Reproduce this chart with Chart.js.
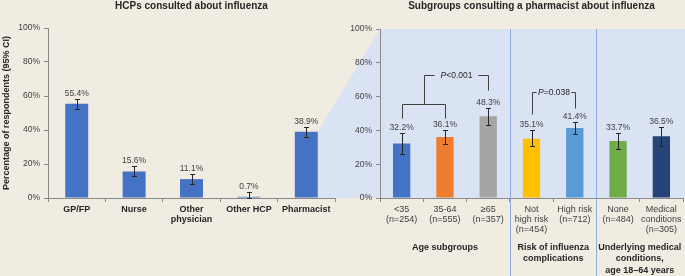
<!DOCTYPE html>
<html>
<head>
<meta charset="utf-8">
<script src="https://cdn.jsdelivr.net/npm/chart.js@4.4.1/dist/chart.umd.min.js"></script>
<style>
  html, body { margin: 0; padding: 0; background: #f1ece2; }
  #wrap { position: relative; width: 685px; height: 276px; overflow: hidden; }
  #wrap canvas { position: absolute; left: 0; top: 0; }
</style>
</head>
<body>
<div id="wrap">
  <canvas id="subgroupChart" width="685" height="276"></canvas>
  <canvas id="hcpChart" width="685" height="276"></canvas>
</div>
<script>
// Left panel - HCPs consulted about influenza
const hcpLabels = ['GP/FP', 'Nurse', ['Other', 'physician'], 'Other HCP', 'Pharmacist'];
const hcpValues = [55.4, 15.6, 11.1, 0.7, 38.9];
const hcpLower = [52.4, 12.8, 8.1, 0, 35.8];
const hcpUpper = [58.3, 18.7, 14.2, 3.7, 42.0];

// Right panel - subgroups consulting a pharmacist
const subLabels = [['<35', '(n=254)'], ['35-64', '(n=555)'], ['≥65', '(n=357)'],
  ['Not', 'high risk', '(n=454)'], ['High risk', '(n=712)'],
  ['None', '(n=484)'], ['Medical', 'conditions', '(n=305)']];
const subValues = [32.2, 36.1, 48.3, 35.1, 41.4, 33.7, 36.5];
const subLower = [26.3, 32.2, 42.9, 30.6, 37.6, 29.2, 31.0];
const subUpper = [38.6, 40.4, 53.4, 40.0, 45.1, 38.2, 42.2];
const subColors = ['#4472c4', '#ed7d31', '#a5a5a5', '#ffc000', '#5b9bd5', '#70ad47', '#264478'];

// Subgroup headings under the axis (first / last category of each group)
const groupNames = [['Age subgroups'], ['Risk of influenza', 'complications'], ['Underlying medical', 'conditions,', 'age 18–64 years']];
const groupFirst = [0, 3, 5];
const groupLast = [2, 4, 6];

// Significance brackets, heights in % of respondents
const ageLegs = [0, 1];
const ageLevels = [47.5, 55.5, 73, 64];   // leg base, join, top, right leg base
const ageRight = 2;
const riskLegs = [3, 4];
const riskLevels = [49.5, 53.5, 63];      // left base, right base, top

const FONT = '"Liberation Sans", Arial, sans-serif';
const axisColor = '#8a8a8a';
Chart.defaults.font.family = FONT;

function errorBarPlugin(lower, upper) {
    return {
        id: 'errorBars',
        afterDatasetsDraw(chart) {
            const ctx = chart.ctx;
            const yScale = chart.scales.y;
            const bars = chart.getDatasetMeta(0).data;
            const values = chart.data.datasets[0].data;
            ctx.save();
            ctx.lineWidth = 1;
            bars.forEach((bar, i) => {
                const x = Math.round(bar.x) + 0.5;
                const top = Math.round(yScale.getPixelForValue(upper[i])) + 0.5;
                const bot = Math.round(yScale.getPixelForValue(lower[i])) + 0.5;
                ctx.strokeStyle = '#262626';
                ctx.beginPath();
                ctx.moveTo(x, top); ctx.lineTo(x, bot);
                ctx.moveTo(x - 2.5, top); ctx.lineTo(x + 2.5, top);
                ctx.moveTo(x - 2.5, bot); ctx.lineTo(x + 2.5, bot);
                ctx.stroke();
                ctx.fillStyle = '#404040';
                ctx.font = '8.5px ' + FONT;
                ctx.textAlign = 'center';
                ctx.textBaseline = 'bottom';
                ctx.fillText(values[i].toFixed(1) + '%', bar.x, top - 1.5);
            });
            ctx.restore();
        }
    };
}

function panelTitlePlugin(text) {
    return {
        id: 'panelTitle',
        afterDraw(chart) {
            const { ctx, chartArea } = chart;
            ctx.save();
            ctx.font = 'bold 10px ' + FONT;
            ctx.fillStyle = '#262626';
            ctx.textAlign = 'center';
            ctx.textBaseline = 'middle';
            ctx.fillText(text, (chartArea.left + chartArea.right) / 2, 6.5);
            ctx.restore();
        }
    };
}

function axisOptions(tickFont, yWidth, extraY) {
    return {
        x: {
            grid: { drawOnChartArea: false, tickLength: 4, color: axisColor },
            border: { color: axisColor },
            ticks: { color: tickFont.weight ? '#262626' : '#404040', font: tickFont, padding: 2, maxRotation: 0, autoSkip: false },
            afterFit(s) { s.height = 78; }
        },
        y: Object.assign({
            min: 0,
            max: 100,
            grid: { drawOnChartArea: false, tickLength: 4, color: axisColor },
            border: { color: axisColor },
            ticks: { stepSize: 20, color: '#404040', font: { size: 8.5 }, padding: 4, callback: v => v + '%' },
            afterFit(s) { s.width = yWidth; }
        }, extraY || {})
    };
}

const hcpChart = new Chart(document.getElementById('hcpChart'), {
    type: 'bar',
    data: {
        labels: hcpLabels,
        datasets: [{ data: hcpValues, backgroundColor: '#4472c4', categoryPercentage: 1, barPercentage: 0.4 }]
    },
    options: {
        responsive: false,
        animation: false,
        events: [],
        layout: { padding: { top: 28, right: 350, left: 0, bottom: 0 } },
        plugins: { legend: { display: false }, tooltip: { enabled: false } },
        scales: axisOptions({ size: 9, weight: 'bold', lineHeight: 1.15 }, 48, {
            title: {
                display: true,
                text: 'Percentage of respondents (95% CI)',
                color: '#262626',
                font: { size: 9, weight: 'bold' },
                padding: { top: 1, bottom: 0 }
            }
        })
    },
    plugins: [errorBarPlugin(hcpLower, hcpUpper), panelTitlePlugin('HCPs consulted about influenza')]
});

// blue panel plus the wedge coming out of the pharmacist bar
const panelBackground = {
    id: 'panelBackground',
    beforeDraw(chart) {
        const { ctx, chartArea } = chart;
        const ph = hcpChart.getDatasetMeta(0).data[hcpValues.length - 1];
        const barRight = ph.x + ph.width / 2;
        ctx.save();
        ctx.fillStyle = '#dae3f3';
        ctx.beginPath();
        ctx.moveTo(barRight, ph.y);
        ctx.lineTo(chartArea.left, chartArea.top);
        ctx.lineTo(chart.width, chartArea.top);
        ctx.lineTo(chart.width, chartArea.bottom);
        ctx.lineTo(barRight, hcpChart.chartArea.bottom);
        ctx.closePath();
        ctx.fill();
        ctx.restore();
    },
    afterDraw(chart) {
        const { ctx, chartArea } = chart;
        const x = chart.scales.x;
        ctx.save();
        // separators between subgroup blocks
        ctx.strokeStyle = '#8eaadb';
        ctx.lineWidth = 1;
        for (let g = 0; g < groupFirst.length - 1; g++) {
            const sx = Math.round((x.getPixelForValue(groupLast[g]) + x.getPixelForValue(groupFirst[g + 1])) / 2) + 0.5;
            ctx.beginPath();
            ctx.moveTo(sx, chartArea.top);
            ctx.lineTo(sx, chart.height);
            ctx.stroke();
        }
        // subgroup headings
        ctx.font = 'bold 9px ' + FONT;
        ctx.fillStyle = '#262626';
        ctx.textAlign = 'center';
        ctx.textBaseline = 'middle';
        groupNames.forEach((lines, g) => {
            const cx = (x.getPixelForValue(groupFirst[g]) + x.getPixelForValue(groupLast[g])) / 2;
            lines.forEach((line, k) => {
                ctx.fillText(line, cx, chartArea.bottom + 49.5 + k * 11.5);
            });
        });
        ctx.restore();
    }
};

function drawPText(ctx, rest, cx, cy) {
    const italic = 'italic 8.5px ' + FONT;
    const normal = '8.5px ' + FONT;
    ctx.font = italic;
    const wp = ctx.measureText('P').width;
    ctx.font = normal;
    const wr = ctx.measureText(rest).width;
    const left = cx - (wp + wr) / 2;
    ctx.textAlign = 'left';
    ctx.textBaseline = 'middle';
    ctx.fillStyle = '#262626';
    ctx.font = italic;
    ctx.fillText('P', left, cy);
    ctx.font = normal;
    ctx.fillText(rest, left + wp, cy);
    return wp + wr;
}

const brackets = {
    id: 'brackets',
    afterDatasetsDraw(chart) {
        const { ctx } = chart;
        const x = chart.scales.x;
        const y = chart.scales.y;
        const px = i => Math.round(x.getPixelForValue(i)) + 0.5;
        const py = v => Math.round(y.getPixelForValue(v)) + 0.5;
        ctx.save();
        ctx.strokeStyle = '#404040';
        ctx.lineWidth = 1;

        // age bracket: two legs joined, then up and over to the >=65 bar
        const a0 = px(ageLegs[0]), a1 = px(ageLegs[1]), a2 = px(ageRight);
        const mid = Math.round((a0 + a1) / 2) + 0.5;
        const topY = py(ageLevels[2]);
        ctx.beginPath();
        ctx.moveTo(a0, py(ageLevels[0])); ctx.lineTo(a0, py(ageLevels[1]));
        ctx.lineTo(a1, py(ageLevels[1])); ctx.lineTo(a1, py(ageLevels[0]));
        ctx.moveTo(mid, py(ageLevels[1])); ctx.lineTo(mid, topY);
        ctx.stroke();
        const cx1 = (mid + a2) / 2;
        const w1 = drawPText(ctx, '<0.001', cx1, topY);
        ctx.beginPath();
        ctx.moveTo(mid, topY); ctx.lineTo(cx1 - w1 / 2 - 6, topY);
        ctx.moveTo(cx1 + w1 / 2 + 6, topY); ctx.lineTo(a2, topY);
        ctx.lineTo(a2, py(ageLevels[3]));
        ctx.stroke();

        // risk bracket
        const r0 = px(riskLegs[0]), r1 = px(riskLegs[1]);
        const rTop = py(riskLevels[2]);
        const cx2 = (r0 + r1) / 2;
        const w2 = drawPText(ctx, '=0.038', cx2, rTop);
        ctx.beginPath();
        ctx.moveTo(r0, py(riskLevels[0])); ctx.lineTo(r0, rTop); ctx.lineTo(cx2 - w2 / 2 - 1.5, rTop);
        ctx.moveTo(cx2 + w2 / 2 + 1.5, rTop); ctx.lineTo(r1, rTop); ctx.lineTo(r1, py(riskLevels[1]));
        ctx.stroke();
        ctx.restore();
    }
};

const subgroupChart = new Chart(document.getElementById('subgroupChart'), {
    type: 'bar',
    data: {
        labels: subLabels,
        datasets: [{ data: subValues, backgroundColor: subColors, categoryPercentage: 1, barPercentage: 0.4 }]
    },
    options: {
        responsive: false,
        animation: false,
        events: [],
        layout: { padding: { top: 29, right: 2, left: 0, bottom: 0 } },
        plugins: { legend: { display: false }, tooltip: { enabled: false } },
        scales: axisOptions({ size: 9, lineHeight: 1.15 }, 380)
    },
    plugins: [panelBackground, errorBarPlugin(subLower, subUpper), brackets,
        panelTitlePlugin('Subgroups consulting a pharmacist about influenza')]
});
</script>
</body>
</html>
